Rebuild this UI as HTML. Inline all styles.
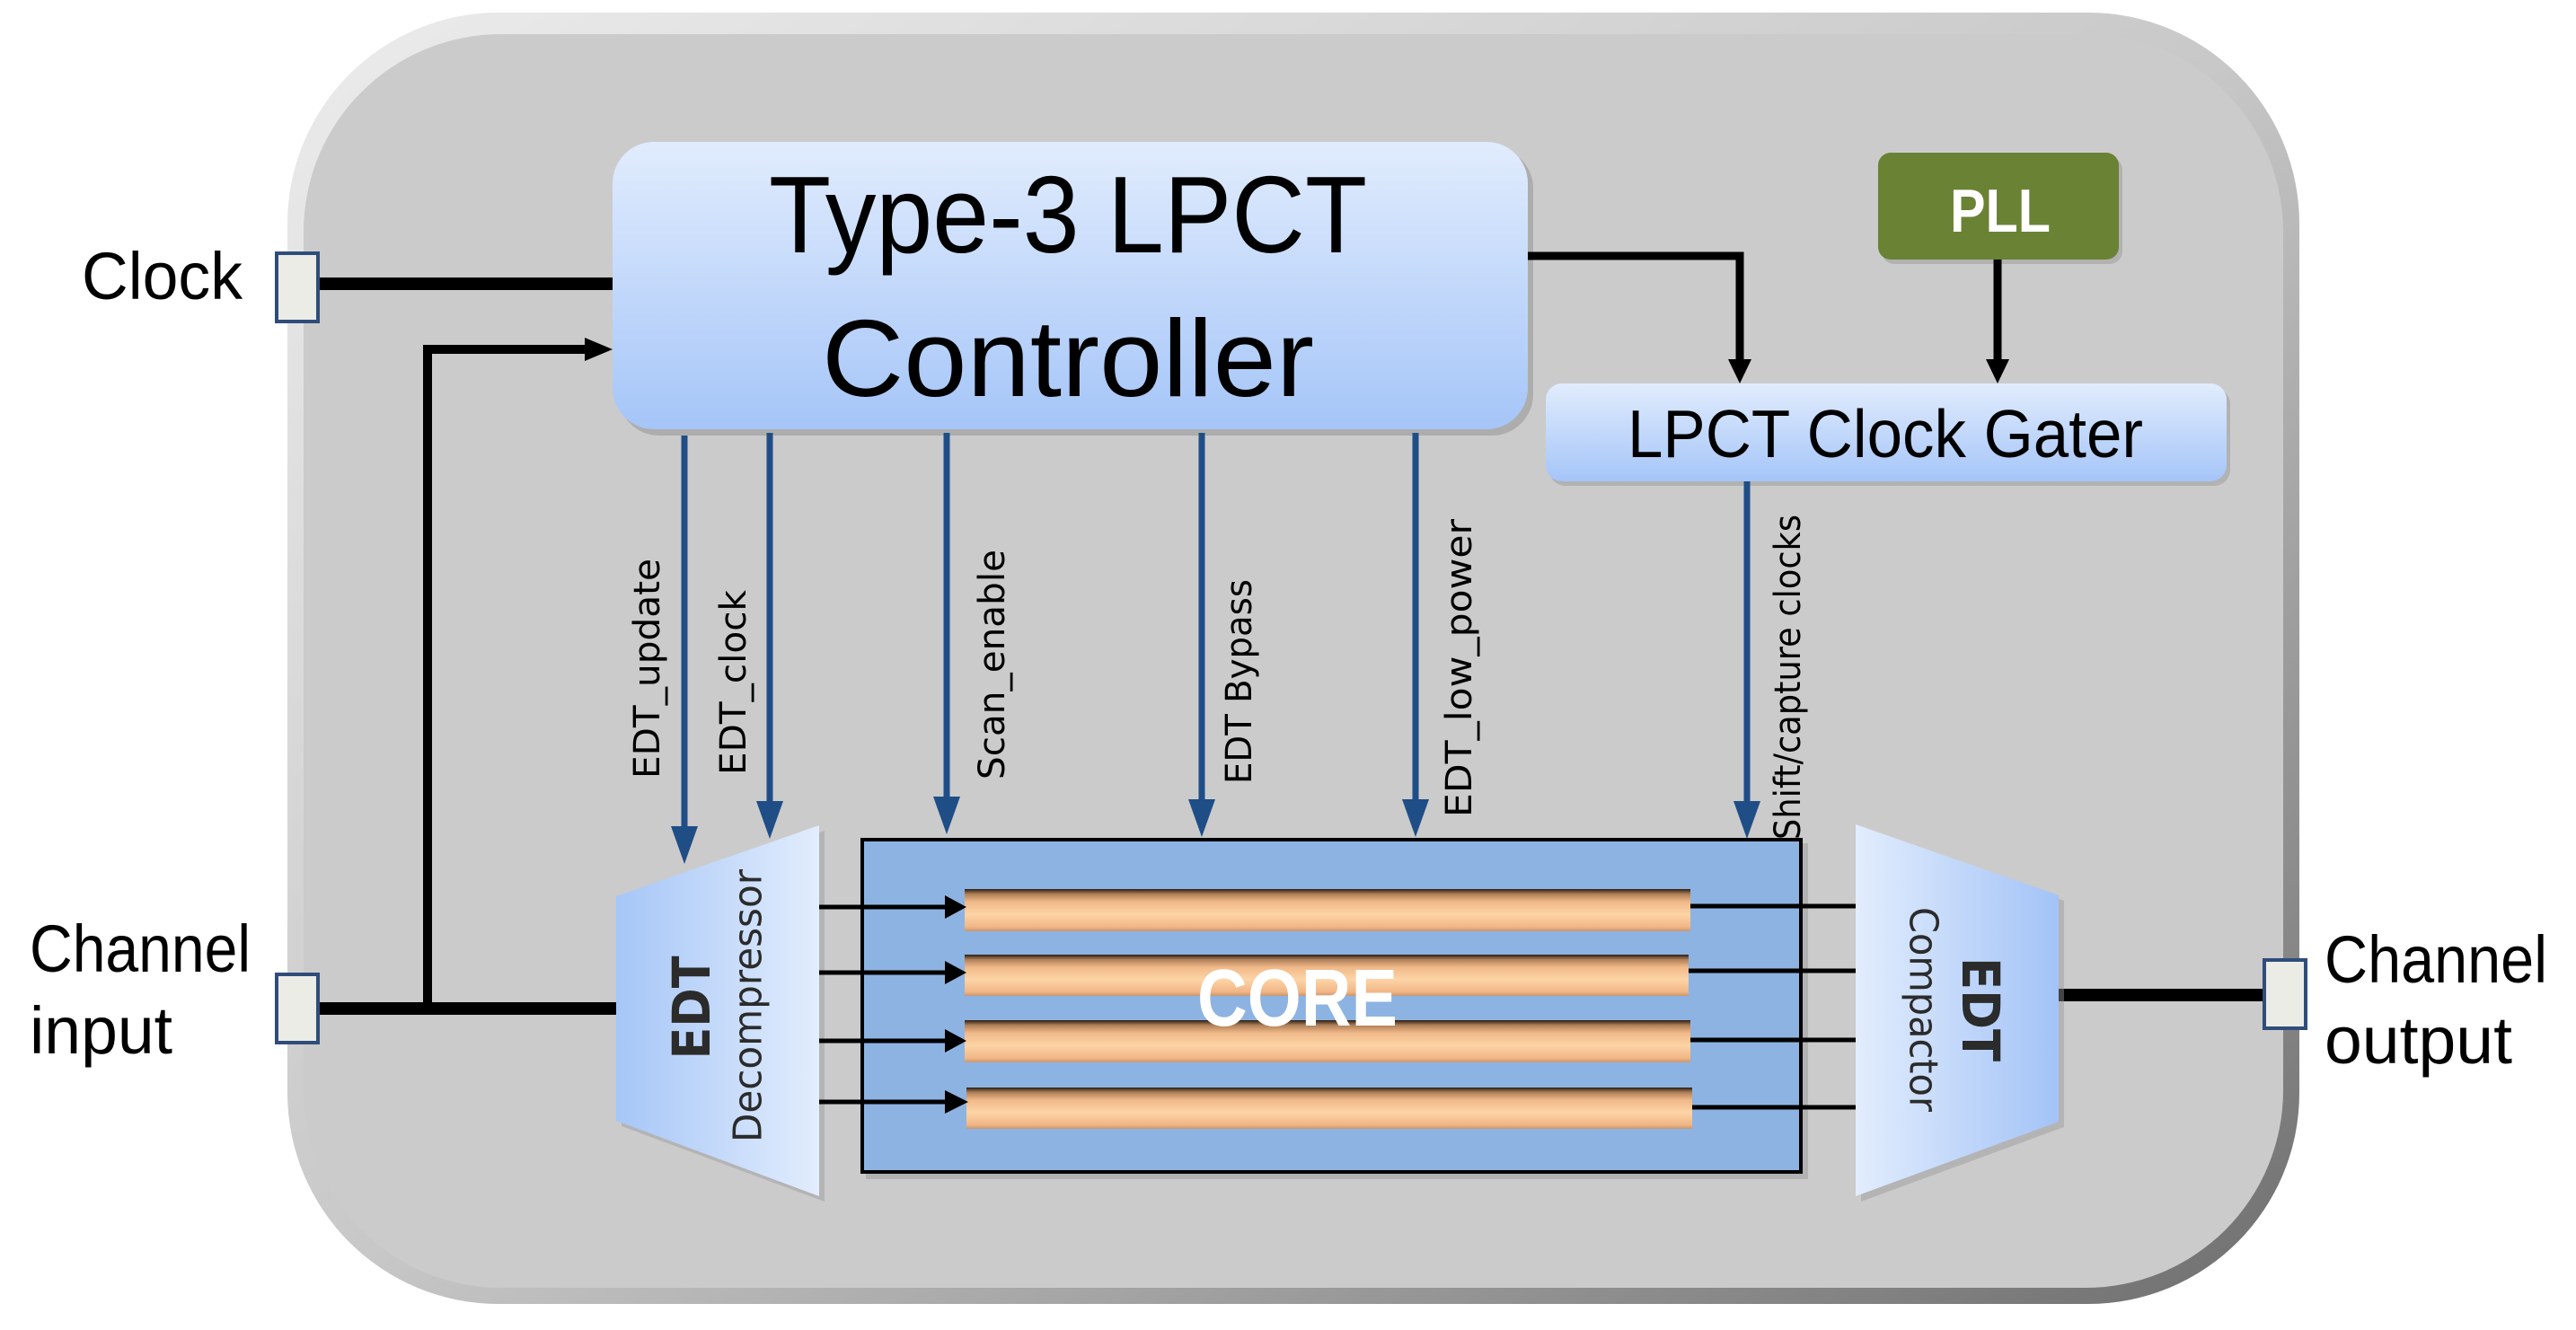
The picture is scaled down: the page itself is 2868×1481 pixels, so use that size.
<!DOCTYPE html>
<html><head><meta charset="utf-8"><style>html,body{margin:0;padding:0;background:#fff;width:2868px;height:1481px;overflow:hidden}</style></head>
<body>
<svg width="2868" height="1481" viewBox="0 0 2868 1481" xmlns="http://www.w3.org/2000/svg">
<defs>
<linearGradient id="ctl" x1="0" y1="0" x2="0" y2="1"><stop offset="0" stop-color="#e1ecfd"/><stop offset="1" stop-color="#a5c5f8"/></linearGradient>
<linearGradient id="dec" x1="0" y1="0" x2="1" y2="0"><stop offset="0" stop-color="#a6c6f7"/><stop offset="1" stop-color="#e2edfd"/></linearGradient>
<linearGradient id="cmp" x1="0" y1="0" x2="1" y2="0"><stop offset="0" stop-color="#e2edfd"/><stop offset="1" stop-color="#a3c3f7"/></linearGradient>
<linearGradient id="bar" x1="0" y1="0" x2="0" y2="1"><stop offset="0" stop-color="#2a1e14"/><stop offset="0.12" stop-color="#b08058"/><stop offset="0.3" stop-color="#f0b888"/><stop offset="0.6" stop-color="#fdd4a6"/><stop offset="0.9" stop-color="#f1b686"/><stop offset="1" stop-color="#c89670"/></linearGradient>
<linearGradient id="outer" x1="0" y1="0" x2="1" y2="1"><stop offset="0" stop-color="#ececec"/><stop offset="0.5" stop-color="#c8c8c8"/><stop offset="1" stop-color="#6e6e6e"/></linearGradient>
</defs>

<!-- outer container -->
<rect x="320" y="14" width="2240" height="1438" rx="235" fill="url(#outer)"/>
<rect x="338" y="38" width="2204" height="1396" rx="220" fill="#cbcbcb"/>

<!-- controller -->
<rect x="688" y="164" width="1019" height="321" rx="46" fill="#9a9a9a" opacity="0.6"/>
<rect x="682" y="158" width="1019" height="320" rx="46" fill="url(#ctl)"/>
<text x="856" y="281" font-family="Liberation Sans, sans-serif" font-size="122" textLength="666" lengthAdjust="spacingAndGlyphs">Type-3 LPCT</text>
<text x="915" y="441" font-family="Liberation Sans, sans-serif" font-size="122" textLength="548" lengthAdjust="spacingAndGlyphs">Controller</text>

<!-- PLL -->
<rect x="2095" y="175" width="268" height="119" rx="14" fill="#999" opacity="0.5"/>
<rect x="2091" y="170" width="268" height="119" rx="14" fill="#6a8234"/>
<text x="2171" y="258" font-family="Liberation Sans, sans-serif" font-weight="bold" font-size="68" fill="#fff" textLength="112" lengthAdjust="spacingAndGlyphs">PLL</text>

<!-- Gater -->
<rect x="1725" y="432" width="758" height="109" rx="18" fill="#999" opacity="0.5"/>
<rect x="1721" y="427" width="758" height="109" rx="18" fill="url(#ctl)"/>
<text x="1812" y="509" font-family="Liberation Sans, sans-serif" font-size="75" textLength="574" lengthAdjust="spacingAndGlyphs">LPCT Clock Gater</text>

<!-- black connectors -->
<g stroke="#000" fill="none">
<line x1="355" y1="316" x2="682" y2="316" stroke-width="14"/>
<polyline points="476,1123 476,389 655,389" stroke-width="10"/>
<line x1="355" y1="1123" x2="688" y2="1123" stroke-width="14"/>
<line x1="2292" y1="1108" x2="2520" y2="1108" stroke-width="14"/>
<polyline points="1701,285 1937,285 1937,402" stroke-width="9"/>
<line x1="2224" y1="289" x2="2224" y2="402" stroke-width="9"/>
</g>
<polygon points="651,376 682,389 651,402" fill="#000"/>
<polygon points="1924,400 1950,400 1937,427" fill="#000"/>
<polygon points="2211,400 2237,400 2224,427" fill="#000"/>

<!-- ports -->
<rect x="308" y="282" width="46" height="76" fill="#ecece6" stroke="#2f4d7a" stroke-width="4"/>
<rect x="308" y="1085" width="46" height="76" fill="#ecece6" stroke="#2f4d7a" stroke-width="4"/>
<rect x="2521" y="1069" width="46" height="76" fill="#ecece6" stroke="#2f4d7a" stroke-width="4"/>

<!-- external labels -->
<g font-family="Liberation Sans, sans-serif" font-size="74" fill="#000">
<text x="91" y="333" textLength="179" lengthAdjust="spacingAndGlyphs">Clock</text>
<text x="33" y="1082" textLength="246" lengthAdjust="spacingAndGlyphs">Channel</text>
<text x="33" y="1173" textLength="159" lengthAdjust="spacingAndGlyphs">input</text>
<text x="2588" y="1094" textLength="248" lengthAdjust="spacingAndGlyphs">Channel</text>
<text x="2588" y="1184" textLength="209" lengthAdjust="spacingAndGlyphs">output</text>
</g>

<!-- blue signal arrows -->
<g stroke="#1f4e87" stroke-width="7">
<line x1="762" y1="485" x2="762" y2="925"/>
<line x1="857" y1="482" x2="857" y2="897"/>
<line x1="1054" y1="482" x2="1054" y2="892"/>
<line x1="1338" y1="482" x2="1338" y2="895"/>
<line x1="1576" y1="482" x2="1576" y2="895"/>
<line x1="1945" y1="536" x2="1945" y2="897"/>
</g>
<g fill="#1f4e87">
<polygon points="747,920 777,920 762,962"/>
<polygon points="842,892 872,892 857,934"/>
<polygon points="1039,887 1069,887 1054,929"/>
<polygon points="1323,890 1353,890 1338,932"/>
<polygon points="1561,890 1591,890 1576,932"/>
<polygon points="1930,892 1960,892 1945,934"/>
</g>

<!-- vertical labels -->
<g font-family="DejaVu Sans, sans-serif" font-size="40" fill="#000" dominant-baseline="central">
<text transform="translate(721,867) rotate(-90)" textLength="245" lengthAdjust="spacingAndGlyphs">EDT_update</text>
<text transform="translate(817,863) rotate(-90)" textLength="206" lengthAdjust="spacingAndGlyphs">EDT_clock</text>
<text transform="translate(1105,868) rotate(-90)" textLength="256" lengthAdjust="spacingAndGlyphs">Scan_enable</text>
<text transform="translate(1380,873) rotate(-90)" textLength="228" lengthAdjust="spacingAndGlyphs">EDT Bypass</text>
<text transform="translate(1625,910) rotate(-90)" textLength="332" lengthAdjust="spacingAndGlyphs">EDT_low_power</text>
<text transform="translate(1991,935) rotate(-90)" textLength="362" lengthAdjust="spacingAndGlyphs">Shift/capture clocks</text>
</g>

<!-- decompressor -->
<polygon points="692,1004 918,925 918,1338 692,1254" fill="#999" opacity="0.45"/>
<polygon points="686,998 912,919 912,1332 686,1248" fill="url(#dec)"/>
<g font-family="DejaVu Sans, sans-serif" fill="#2b2b2b" dominant-baseline="central" text-anchor="middle">
<text transform="translate(770,1122) rotate(-90)" font-weight="bold" font-size="58" textLength="115" lengthAdjust="spacingAndGlyphs">EDT</text>
<text transform="translate(833,1120) rotate(-90)" font-size="44" textLength="304" lengthAdjust="spacingAndGlyphs">Decompressor</text>
</g>

<!-- compactor -->
<polygon points="2072,924 2298,1003 2298,1255 2072,1338" fill="#999" opacity="0.45"/>
<polygon points="2066,918 2292,997 2292,1249 2066,1332" fill="url(#cmp)"/>
<g font-family="DejaVu Sans, sans-serif" fill="#2b2b2b" dominant-baseline="central" text-anchor="middle">
<text transform="translate(2205,1124) rotate(90)" font-weight="bold" font-size="58" textLength="116" lengthAdjust="spacingAndGlyphs">EDT</text>
<text transform="translate(2141,1124) rotate(90)" font-size="44" textLength="228" lengthAdjust="spacingAndGlyphs">Compactor</text>
</g>

<!-- core -->
<rect x="964" y="939" width="1049" height="374" fill="#999" opacity="0.5"/>
<rect x="960" y="935" width="1045" height="370" fill="#8db3e2" stroke="#000" stroke-width="4"/>
<g>
<rect x="1074" y="990" width="808" height="47" fill="url(#bar)"/>
<rect x="1074" y="1063" width="806" height="46" fill="url(#bar)"/>
<rect x="1074" y="1136" width="808" height="47" fill="url(#bar)"/>
<rect x="1076" y="1211" width="808" height="46" fill="url(#bar)"/>
</g>
<g stroke="#000" stroke-width="5">
<line x1="912" y1="1010" x2="1060" y2="1010"/>
<line x1="912" y1="1083" x2="1060" y2="1083"/>
<line x1="912" y1="1159" x2="1060" y2="1159"/>
<line x1="912" y1="1227" x2="1060" y2="1227"/>
<line x1="1882" y1="1009" x2="2066" y2="1009"/>
<line x1="1880" y1="1081" x2="2066" y2="1081"/>
<line x1="1882" y1="1158" x2="2066" y2="1158"/>
<line x1="1884" y1="1233" x2="2066" y2="1233"/>
</g>
<g fill="#000">
<polygon points="1052,997 1076,1010 1052,1023"/>
<polygon points="1052,1070 1076,1083 1052,1096"/>
<polygon points="1052,1146 1076,1159 1052,1172"/>
<polygon points="1052,1214 1078,1227 1052,1240"/>
</g>
<text x="1333" y="1142" font-family="Liberation Sans, sans-serif" font-weight="bold" font-size="90" fill="#fff" textLength="223" lengthAdjust="spacingAndGlyphs">CORE</text>
</svg>
</body></html>
